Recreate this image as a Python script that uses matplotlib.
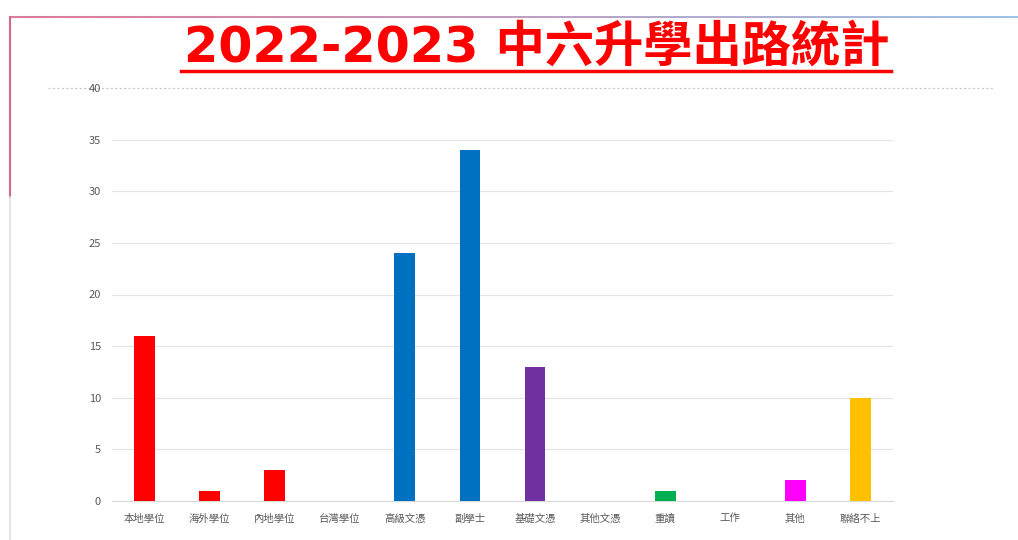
import numpy as np
import matplotlib.pyplot as plt
from matplotlib.collections import LineCollection
from matplotlib.colors import to_rgb

plt.rcParams['font.family'] = ['Noto Sans CJK TC', 'DejaVu Sans']

# 數據
categories = ['本地學位', '海外學位', '內地學位', '台灣學位', '高級文憑', '副學士',
              '基礎文憑', '其他文憑', '重讀', '工作', '其他', '聯絡不上']
counts = [16, 1, 3, 0, 24, 34, 13, 0, 1, 0, 2, 10]
bar_colors = ['#FF0000', '#FF0000', '#FF0000', '#FF0000', '#0070C0', '#0070C0',
              '#7030A0', '#7030A0', '#00B050', '#00B050', '#FF00FF', '#FFC000']
yticks = [0, 5, 10, 15, 20, 25, 30, 35, 40]

W, H = 1018, 540
fig = plt.figure(figsize=(W / 100, H / 100), dpi=100)
ax = fig.add_axes([112 / W, 39 / H, 781 / W, 413 / H])

x = np.arange(len(categories))
ax.bar(x, counts, width=0.32, color=bar_colors, zorder=3)

ax.set_xlim(-0.5, len(categories) - 0.5)
ax.set_ylim(0, 40)
ax.set_yticks(yticks)
ax.set_xticks(x)
ax.set_xticklabels(categories, fontsize=7.5, color='#595959')
ax.tick_params(axis='y', labelsize=8, labelcolor='#595959', length=0, pad=8)
ax.tick_params(axis='x', length=0, pad=9)

# 格線
for v in yticks[1:-1]:
    ax.axhline(v, color='#e3e3e3', lw=0.8, zorder=1)
ax.axhline(40, xmin=(48 - 112) / 781, xmax=(993 - 112) / 781, color='#c8c8c8',
           lw=0.8, ls=(0, (2, 2)), clip_on=False, zorder=1)

for s in ['top', 'right', 'left']:
    ax.spines[s].set_visible(False)
ax.spines['bottom'].set_color('#d9d9d9')
ax.spines['bottom'].set_linewidth(0.9)

# 標題
fig.text(537 / W, 1 - 62 / H, '2022-2023 中六升學出路統計', fontsize=35.5,
         fontweight='bold', color='#FF0000', ha='center', va='baseline',
         family=['DejaVu Sans', 'Noto Sans CJK TC'])
fig.add_artist(plt.Line2D([181 / W, 891 / W], [1 - 70.5 / H, 1 - 70.5 / H],
                          color='#FF0000', lw=2.5, transform=fig.transFigure))

# 外框 (頂部漸變線 + 左邊線)
n = 200
xs = np.linspace(10 / W, 1.0, n + 1)
segs = [[(xs[i], 1 - 17 / H), (xs[i + 1], 1 - 17 / H)] for i in range(n)]
c1, c2 = np.array(to_rgb('#e07a9a')), np.array(to_rgb('#9dc3e6'))
cols = [c1 + (c2 - c1) * t for t in np.linspace(0, 1, n)]
fig.add_artist(LineCollection(segs, colors=cols, linewidths=1.5, transform=fig.transFigure))
fig.add_artist(plt.Line2D([10 / W, 10 / W], [1 - 17 / H, 1 - 197 / H],
                          color='#d06a8c', lw=1.5, transform=fig.transFigure))
fig.add_artist(plt.Line2D([10 / W, 10 / W], [1 - 197 / H, 0],
                          color='#e0e0e0', lw=1.2, transform=fig.transFigure))

fig.savefig('out.png', dpi=100)
